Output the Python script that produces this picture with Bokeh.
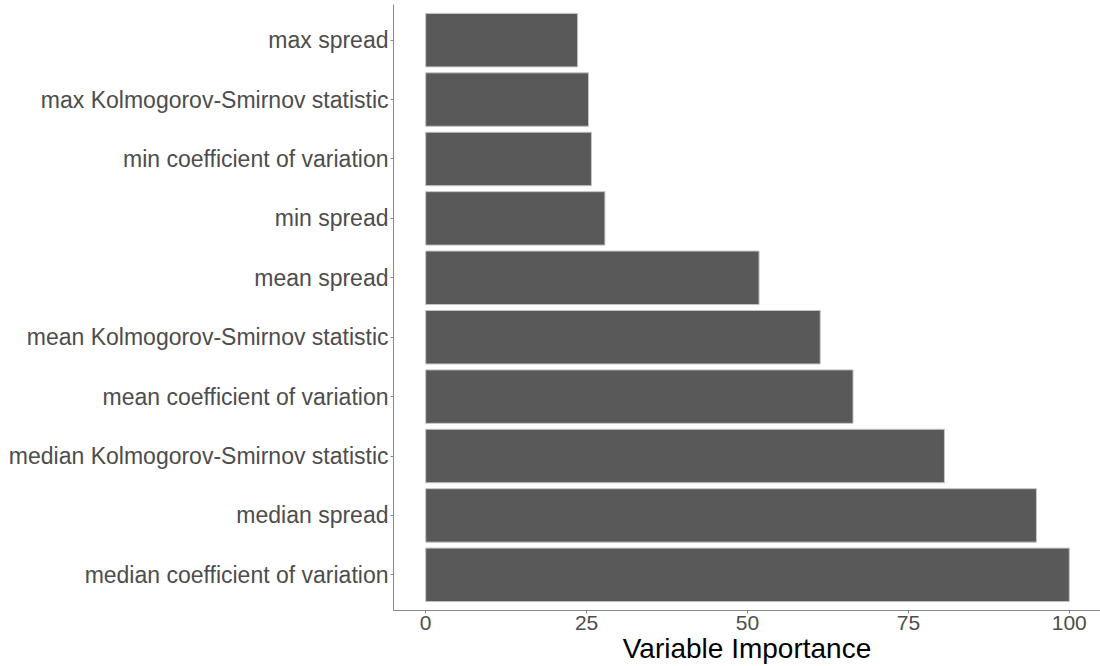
from bokeh.plotting import figure
from bokeh.models import ColumnDataSource, FixedTicker, Range1d
from bokeh.embed import file_html
from bokeh.resources import INLINE

# Data (bottom to top)
variables = [
    "median coefficient of variation",
    "median spread",
    "median Kolmogorov-Smirnov statistic",
    "mean coefficient of variation",
    "mean Kolmogorov-Smirnov statistic",
    "mean spread",
    "min spread",
    "min coefficient of variation",
    "max Kolmogorov-Smirnov statistic",
    "max spread",
]
importance = [100.0, 94.9, 80.6, 66.4, 61.3, 51.8, 27.85, 25.75, 25.3, 23.6]
x_ticks = [0, 25, 50, 75, 100]

positions = list(range(1, len(variables) + 1))
src = ColumnDataSource(dict(y=positions, right=importance, name=variables))

p = figure(
    width=1100, height=666,
    x_range=Range1d(-5, 104.85), y_range=Range1d(0.4, 10.6),
    output_backend="svg", toolbar_location=None,
    min_border_left=393, min_border_right=0, min_border_top=4, min_border_bottom=56,
)
p.hbar(y="y", left=0, right="right", height=0.9, source=src,
       fill_color="#595959", line_color="#c4c4c4", line_width=1)

p.xgrid.visible = False
p.ygrid.visible = False
p.outline_line_color = None
p.background_fill_color = "white"
p.border_fill_color = "white"

axis_color = "#8a8a8a"
for ax in (p.xaxis[0], p.yaxis[0]):
    ax.axis_line_color = axis_color
    ax.major_tick_line_color = axis_color
    ax.minor_tick_line_color = None
    ax.major_tick_in = 0
    ax.major_tick_out = 3
    ax.major_label_text_font = "Liberation Sans"
    ax.major_label_text_color = "#4d4d4d"

p.xaxis.ticker = FixedTicker(ticks=x_ticks)
p.xaxis.major_label_text_font_size = "21px"
p.xaxis.major_label_standoff = 2
p.xaxis.axis_label = "Variable Importance"
p.xaxis.axis_label_text_font = "Liberation Sans"
p.xaxis.axis_label_text_font_size = "28px"
p.xaxis.axis_label_text_font_style = "normal"
p.xaxis.axis_label_text_color = "black"
p.xaxis.axis_label_standoff = 0

p.yaxis.ticker = FixedTicker(ticks=positions)
p.yaxis.major_label_overrides = {i: n for i, n in zip(positions, variables)}
p.yaxis.major_label_text_font_size = "23px"
p.yaxis.major_label_standoff = 2

open("out.html", "w").write(file_html(p, INLINE))
